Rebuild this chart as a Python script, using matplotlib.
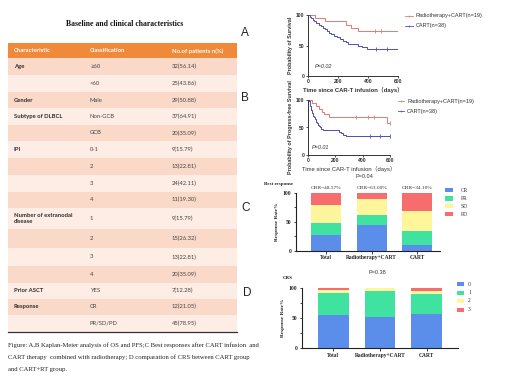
import matplotlib
matplotlib.use('Agg')
import matplotlib.pyplot as plt
from matplotlib.patches import Rectangle

# ---------------- data ----------------
table_title = "Baseline and clinical characteristics"
table_header = ["Characteristic", "Classification", "No.of patients n(%)"]
char_labels = ["Age", "", "Gender", "Subtype of DLBCL", "", "IPI", "", "", "",
               "Number of extranodal\ndisease", "", "", "", "Prior ASCT", "Response", ""]
class_labels = ["≥60", "<60", "Male", "Non-GCB", "GCB", "0-1", "2", "3", "4",
                "1", "2", "3", "4", "YES", "CR", "PR/SD/PD"]
count_labels = ["32(56.14)", "25(43.86)", "29(50.88)", "37(64.91)", "20(35.09)",
                "9(15.79)", "13(22.81)", "24(42.11)", "11(19.30)", "9(15.79)",
                "15(26.32)", "13(22.81)", "20(35.09)", "7(12.28)", "12(21.05)", "45(78.95)"]

# Kaplan-Meier OS (A)
os_rt_t = [0, 44, 111, 255, 289, 333, 600]
os_rt_s = [100, 94.7, 89.5, 84.2, 78.9, 73.7, 73.7]
os_rt_cens_t = [444, 489]
os_cart_t = [0, 10, 20, 30, 40, 55, 70, 85, 100, 115, 125, 140, 155, 175, 190, 215,
             235, 250, 265, 330, 360, 390, 600]
os_cart_s = [100, 97.4, 94.7, 92.1, 89.5, 86.8, 84.2, 81.6, 78.9, 76.3, 73.7, 71.1,
             68.4, 65.8, 63.2, 60.5, 57.9, 55.3, 52.6, 50.0, 47.4, 44.7, 44.7]
os_cart_cens_t = [455, 527]

# Kaplan-Meier PFS (B)
pfs_rt_t = [0, 30, 60, 80, 100, 120, 150, 575, 600]
pfs_rt_s = [100, 94.7, 89.5, 84.2, 78.9, 73.7, 68.4, 57.9, 57.9]
pfs_rt_cens_t = [350, 441, 485, 600]
pfs_cart_t = [0, 8, 12, 15, 18, 20, 22, 25, 28, 32, 36, 40, 45, 50, 55, 60, 65, 70,
              78, 85, 95, 110, 225, 240, 255, 275, 600]
pfs_cart_s = [100, 97.4, 94.7, 92.1, 89.5, 86.8, 84.2, 81.6, 78.9, 76.3, 73.7, 71.1,
              68.4, 65.8, 63.2, 60.5, 57.9, 55.3, 52.6, 50.0, 47.4, 44.7, 42.1, 39.5,
              36.8, 34.2, 34.2]
pfs_cart_cens_t = [453, 527, 600]

km_legend = ["Radiotherapy+CART(n=19)", "CART(n=38)"]

# Best response (C)
groups = ["Total", "Radiotherapy+CART", "CART"]
resp_names = ["CR", "PR", "SD", "PD"]
resp_cr = [27, 44, 9]
resp_pr = [20, 17, 25]
resp_sd = [31, 28, 34]
resp_pd = [22, 11, 32]
orr_labels = ["ORR=48.57%", "ORR=63.00%", "ORR=34.10%"]

# CRS (D)
crs_names = ["0", "1", "2", "3"]
crs_0 = [55, 53, 58]
crs_1 = [38, 42, 33]
crs_2 = [3.5, 5, 4]
crs_3 = [3.5, 0, 5]

caption = ["Figure: A,B Kaplan-Meier analysis of OS and PFS;C Best responses after CART infusion  and",
           "CART therapy  combined with radiotherapy; D comparation of CRS between CART group",
           "and CART+RT group."]

# ---------------- figure ----------------
W, H = 520, 390
fig = plt.figure(figsize=(5.2, 3.9), dpi=100)
ov = fig.add_axes([0, 0, 1, 1], zorder=0)
ov.set_xlim(0, W); ov.set_ylim(H, 0); ov.axis('off')


def fa(l, t, r, b):
    return [l / W, 1 - b / H, (r - l) / W, (b - t) / H]


TFONT = ['Lato', 'DejaVu Sans']
SERIF = ['Liberation Serif', 'DejaVu Serif']
SANS = ['Liberation Sans', 'DejaVu Sans']
TXT = '#2b2b2b'

# ---- table ----
ov.text(125, 24, table_title, ha='center', va='center', fontsize=5.6,
        fontweight='bold', family=SERIF, color='#111')
tl, tr = 8, 237
ov.add_patch(Rectangle((tl, 43.3), tr - tl, 15, facecolor='#F0893A', edgecolor='none'))
col_x = [14, 90, 172]
for x, h in zip(col_x, table_header):
    ov.text(x, 51, h, ha='left', va='center', fontsize=4.3, fontweight='bold',
            color='white', family=TFONT)
bounds = [58.3, 75, 91.7, 108.3, 125, 141, 158, 175.3, 191.7, 208, 228.7, 248,
          266, 282.7, 298.7, 315, 331.7]
for i in range(len(class_labels)):
    y0, y1 = bounds[i], bounds[i + 1]
    fc = '#FAD9C8' if i % 2 == 0 else '#FDEDE4'
    ov.add_patch(Rectangle((tl, y0), tr - tl, y1 - y0, facecolor=fc, edgecolor='none'))
    yc = (y0 + y1) / 2
    if char_labels[i]:
        ov.text(col_x[0], yc, char_labels[i], ha='left', va='center', fontsize=4.2,
                fontweight='bold', color=TXT, family=TFONT, linespacing=1.3)
    ov.text(col_x[1], yc, class_labels[i], ha='left', va='center', fontsize=4.2,
            color='#444', family=TFONT)
    ov.text(col_x[2], yc, count_labels[i], ha='left', va='center', fontsize=4.2,
            color='#444', family=TFONT)
ov.plot([tl, tr], [331.7, 331.7], color='#333', lw=0.9)

# ---- caption ----
for k, line in enumerate(caption):
    ov.text(8, 345 + 12 * k, line, ha='left', va='center', fontsize=4.8,
            family=SERIF, color='#222')

# ---- panel letters ----
for lab, (x, y) in zip("ABCD", [(245, 33), (245, 98), (246, 208), (247, 293)]):
    ov.text(x, y, lab, ha='center', va='center', fontsize=8.5, family=SANS, color='#222')

RED = '#E07A74'
BLUE = '#4B4FB8'


def km_axes(rect, rt_t, rt_s, rt_c, ca_t, ca_s, ca_c, ylabel, xlabel, xbold, ptxt, ppos):
    ax = fig.add_axes(rect)
    ax.step(rt_t, rt_s, where='post', color=RED, lw=0.7)
    ax.step(ca_t, ca_s, where='post', color=BLUE, lw=0.7)

    def lvl(ts, ss, c):
        v = ss[0]
        for t, s in zip(ts, ss):
            if t <= c:
                v = s
        return v
    ax.plot(rt_c, [lvl(rt_t, rt_s, c) for c in rt_c], ls='none', marker='|',
            ms=2.5, mew=0.6, color=RED)
    ax.plot(ca_c, [lvl(ca_t, ca_s, c) for c in ca_c], ls='none', marker='|',
            ms=2.5, mew=0.6, color=BLUE)
    ax.set_xlim(0, 600); ax.set_ylim(0, 100)
    ax.set_xticks([0, 200, 400, 600]); ax.set_yticks([0, 50, 100])
    for s in ['top', 'right']:
        ax.spines[s].set_visible(False)
    for s in ['left', 'bottom']:
        ax.spines[s].set_color('#333'); ax.spines[s].set_linewidth(0.7)
    ax.tick_params(labelsize=3.6, length=1.5, width=0.6, pad=1, colors='#333')
    for t in ax.get_xticklabels() + ax.get_yticklabels():
        t.set_fontweight('bold'); t.set_family(SANS)
    ax.set_ylabel(ylabel, fontsize=3.9, fontweight='bold', family=SANS, labelpad=2, color='#333')
    ax.set_xlabel(xlabel, fontsize=4.2, fontweight='bold' if xbold else 'normal',
                  family=['Liberation Sans', 'Noto Sans CJK SC'], labelpad=2, color='#333')
    ax.text(ppos[0], ppos[1], ptxt, transform=ax.transAxes, fontsize=4, family=SANS,
            color='#333', style='italic')
    ax.set_facecolor('none')
    return ax


km_axes(fa(308, 15, 398, 76), os_rt_t, os_rt_s, os_rt_cens_t, os_cart_t, os_cart_s,
        os_cart_cens_t, "Probability of Survival", "Time since CAR-T infusion（days）",
        True, "P=0.02", (0.08, 0.13))
km_axes(fa(308, 100, 390, 155), pfs_rt_t, pfs_rt_s, pfs_rt_cens_t, pfs_cart_t, pfs_cart_s,
        pfs_cart_cens_t, "Probability of Progress-free Survival",
        "Time since CAR-T infusion（days）", False, "P=0.01", (0.05, 0.11))

# KM legends (drawn in figure pixel space)
for (lx0, lx1, tx, ys) in [(405, 413, 416, (16, 26)), (398, 404, 407, (101, 111))]:
    for col, lab, y in zip([RED, BLUE], km_legend, ys):
        ov.plot([lx0, lx1], [y, y], color=col, lw=0.6)
        ov.plot([(lx0 + lx1) / 2], [y], marker='|', ms=2, mew=0.5, color=col)
        ov.text(tx, y, lab, ha='left', va='center', fontsize=4, family=SANS, color='#333')

# ---- stacked bars ----
C_COLS = ['#5A8EEA', '#3FE39F', '#FFF59B', '#F76D6D']


def bar_axes(rect, series, ticks_minor=True):
    ax = fig.add_axes(rect)
    x = list(range(len(groups)))
    bottom = [0] * len(groups)
    for vals, col in zip(series, C_COLS):
        ax.bar(x, vals, bottom=bottom, width=0.66, color=col, edgecolor='none')
        bottom = [b + v for b, v in zip(bottom, vals)]
    ax.set_ylim(0, 100)
    ax.set_xticks(x)
    ax.set_xticklabels(groups)
    ax.set_yticks([0, 50, 100])
    if ticks_minor:
        ax.set_yticks([25, 75], minor=True)
    for s in ['top', 'right']:
        ax.spines[s].set_visible(False)
    for s in ['left', 'bottom']:
        ax.spines[s].set_color('#222'); ax.spines[s].set_linewidth(0.8)
    ax.tick_params(labelsize=4, length=1.8, width=0.6, pad=1.5, colors='#222')
    ax.tick_params(which='minor', length=1.2, width=0.5)
    for t in ax.get_xticklabels() + ax.get_yticklabels():
        t.set_fontweight('bold'); t.set_family(SERIF)
    ax.set_ylabel("Response Rate%", fontsize=3.8, fontweight='bold', family=SERIF,
                  labelpad=3, color='#222')
    ax.set_facecolor('none')
    return ax


axC = bar_axes(fa(296, 192.7, 440, 250.7), [resp_cr, resp_pr, resp_sd, resp_pd])
axC.set_xlim(-0.66, 2.5)
for i, t in enumerate(orr_labels):
    axC.text(i, 107.5, t, ha='center', va='center', fontsize=3.9, family=SERIF,
             color='#333', clip_on=False)

axD = bar_axes(fa(302, 288.3, 458, 348.3), [crs_0, crs_1, crs_2, crs_3])
axD.set_xlim(-0.67, 2.67)

# bar legends
for names, (px0, px1, tx), ys in [(resp_names, (445, 453, 461), (190, 198.3, 206.2, 214.2)),
                                  (crs_names, (456.5, 463.5, 468), (284, 292.7, 301, 309.7))]:
    for nm, col, y in zip(names, C_COLS, ys):
        ov.add_patch(Rectangle((px0, y - 2.2), px1 - px0, 4.4, facecolor=col, edgecolor='none'))
        ov.text(tx, y, nm, ha='left', va='center', fontsize=4, family=SERIF, color='#333')

ov.text(264, 184, "Best response", ha='left', va='center', fontsize=3.6,
        fontweight='bold', family=SERIF, color='#222')
ov.text(283, 278, "CRS", ha='left', va='center', fontsize=3.6,
        fontweight='bold', family=SERIF, color='#222')
ov.text(364, 177, "P=0.04", ha='center', va='center', fontsize=4, family=SANS, color='#333')
ov.text(377, 272, "P=0.38", ha='center', va='center', fontsize=4, family=SANS, color='#333')

fig.savefig('out.png', dpi=100)
